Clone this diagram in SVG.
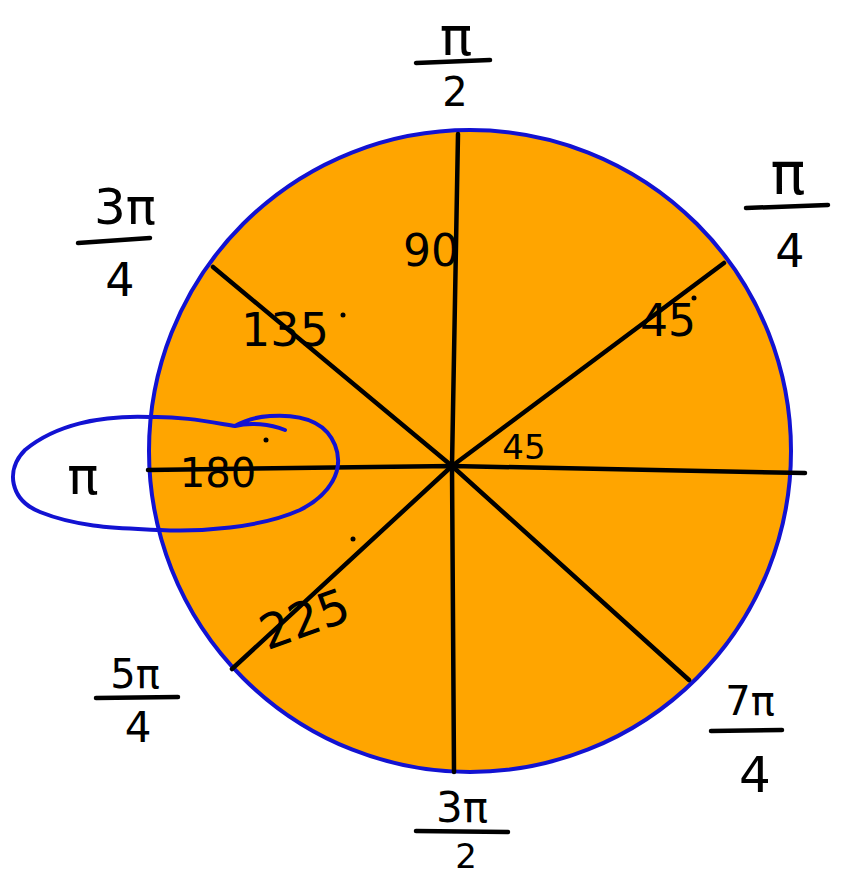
<svg xmlns="http://www.w3.org/2000/svg" width="842" height="879" viewBox="0 0 842 879">
<style>
.t{font-family:"DejaVu Sans","Liberation Sans",sans-serif;fill:#000;text-anchor:middle}
.ln{stroke:#000;stroke-width:4.5;stroke-linecap:round;fill:none}
.bar{stroke:#000;stroke-width:4.5;stroke-linecap:round}
.blue{stroke:#1212d2;stroke-width:4;fill:none;stroke-linecap:round}
</style>
<rect width="842" height="879" fill="#fff"/>
<g id="circle">
<circle cx="470" cy="451" r="321" fill="#FFA500" stroke="#1212d2" stroke-width="4"/>
</g>
<g id="connectors">
<path class="ln" d="M458,134 L455,300 L452,466 L454,772"/>
<path class="ln" d="M148,470 L452,466 L805,473"/>
<path class="ln" d="M724,263 L452,466"/>
<path class="ln" d="M213,267 L452,466"/>
<path class="ln" d="M232,669 L452,466"/>
<path class="ln" d="M689,680 L452,466"/>
</g>
<g id="degrees">
<text class="t" x="431" y="266" font-size="44">90</text>
<text class="t" x="285" y="346" font-size="46">135</text>
<circle cx="343" cy="315" r="2.5"/>
<text class="t" x="668" y="336" font-size="44">45</text>
<circle cx="694" cy="298" r="2.5"/>
<text class="t" x="524" y="459" font-size="34">45</text>
<text class="t" x="218" y="487" font-size="40">180</text>
<circle cx="266" cy="440" r="2.5"/>
<text class="t" x="303" y="636" font-size="48" transform="rotate(-20 303 615)">225</text>
<circle cx="353" cy="539" r="2.5"/>
</g>
<g id="loop">
<path class="blue" d="M285,430 C270,424 250,422 235,426 C210,422 180,416 150,417 C100,415 55,425 25,450 C5,470 10,500 40,512 C80,528 120,528 160,530 C200,532 260,528 300,510 C330,495 345,470 335,445 C325,420 300,414 270,416 C255,417 245,420 235,426"/>
</g>
<g id="pi-over-2">
<text class="t" x="456" y="55" font-size="54">π</text>
<line class="bar" x1="416" y1="63" x2="490" y2="60"/>
<text class="t" x="455" y="106" font-size="40">2</text>
</g>
<g id="pi-over-4">
<text class="t" x="788" y="194" font-size="58">π</text>
<line class="bar" x1="746" y1="208" x2="828" y2="205"/>
<text class="t" x="790" y="267" font-size="46">4</text>
</g>
<g id="three-pi-over-4">
<text class="t" x="125" y="224" font-size="50">3π</text>
<line class="bar" x1="78" y1="243" x2="150" y2="238"/>
<text class="t" x="120" y="296" font-size="46">4</text>
</g>
<g id="pi">
<text class="t" x="83" y="494" font-size="52">π</text>
</g>
<g id="five-pi-over-4">
<text class="t" x="135" y="688" font-size="40">5π</text>
<line class="bar" x1="96" y1="698" x2="178" y2="697"/>
<text class="t" x="138" y="742" font-size="42">4</text>
</g>
<g id="seven-pi-over-4">
<text class="t" x="750" y="715" font-size="40">7π</text>
<line class="bar" x1="711" y1="731" x2="782" y2="730"/>
<text class="t" x="755" y="792" font-size="50">4</text>
</g>
<g id="three-pi-over-2">
<text class="t" x="462" y="822" font-size="42">3π</text>
<line class="bar" x1="416" y1="831" x2="508" y2="832"/>
<text class="t" x="466" y="868" font-size="34">2</text>
</g>
</svg>
